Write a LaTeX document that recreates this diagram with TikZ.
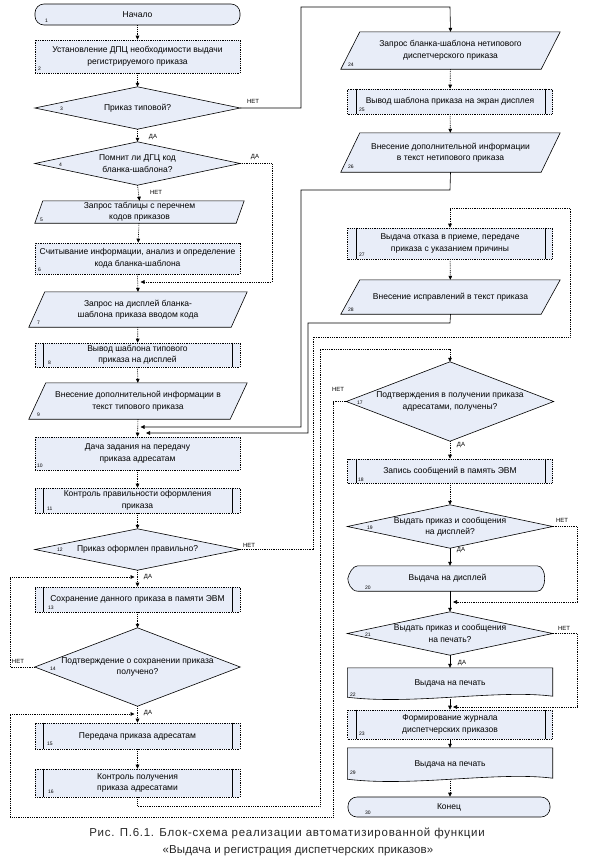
\documentclass[tikz,border=0pt]{standalone}
\usepackage{fontspec}
\setmainfont{Liberation Sans}
\newfontfamily\capfonta[LetterSpace=6.5]{Liberation Sans}
\newfontfamily\capfontb[LetterSpace=1]{Liberation Sans}
\usetikzlibrary{arrows.meta,calc}
\definecolor{boxfill}{RGB}{232,237,248}
\pgfdeclarelayer{bg}
\pgfsetlayers{bg,main}
\newcommand\mainfs{\fontsize{8.5}{11.5}\selectfont}
\newcommand\parag[2]{\begin{pgfonlayer}{bg}\draw[shp] ($(#1.north west)+(#2,0)$) -- (#1.north east) -- ($(#1.south east)-(#2,0)$) -- (#1.south west) -- cycle;\end{pgfonlayer}}
\newcommand\diam[1]{\begin{pgfonlayer}{bg}\draw[shp] (#1.north) -- (#1.east) -- (#1.south) -- (#1.west) -- cycle;\end{pgfonlayer}}
\newcommand\pdl[1]{\draw[ln] ($(#1.north west)+(9,0)$) -- ($(#1.south west)+(9,0)$); \draw[ln] ($(#1.north east)+(-8,0)$) -- ($(#1.south east)+(-8,0)$);}
\newcommand\docshape[1]{\begin{pgfonlayer}{bg}\draw[shp] (#1.north west) -- (#1.north east) -- ($(#1.south east)+(0,-3)$) .. controls ($(#1.south east)+(-55,-10)$) and ($(#1.south west)+(65,6)$) .. ($(#1.south west)+(0,-2)$) -- cycle;\end{pgfonlayer}}
\newcommand\dispshape[1]{\begin{pgfonlayer}{bg}\draw[shp] ($(#1.north west)+(10,0)$) -- ($(#1.north east)+(-10,0)$) .. controls ($(#1.north east)+(0,0)$) and ($(#1.south east)+(0,0)$) .. ($(#1.south east)+(-10,0)$) -- ($(#1.south west)+(10,0)$) .. controls ($(#1.south west)+(3,0)$) and ($(#1.west)+(0,4)$) .. (#1.west) .. controls ($(#1.west)+(1,-5)$) and ($(#1.north west)+(5,0)$) .. ($(#1.north west)+(10,0)$) -- cycle;\end{pgfonlayer}}
\tikzset{
  ln/.style={line width=0.6pt, draw=black},
  dotl/.style={dash pattern=on 0.9pt off 0.9pt},
  shp/.style={ln, fill=boxfill},
  rbox/.style={shp, dotl, minimum width=205pt, inner sep=1pt, align=center, font=\mainfs},
  term/.style={shp, rounded corners=9pt, minimum width=205pt, inner sep=1pt, align=center, font=\mainfs},
  tx/.style={inner sep=0pt, align=center, font=\mainfs},
  num/.style={inner sep=0pt, anchor=west, font=\fontsize{5}{5}\selectfont},
  lbl/.style={inner sep=0pt, font=\fontsize{6}{6}\selectfont},
  conn/.style={ln, -{Triangle[length=4pt,width=3.6pt]}},
  cdot/.style={conn, dotl},
}
\begin{document}
\begin{tikzpicture}[x=1pt,y=-1pt]
\useasboundingbox (0,0) rectangle (592,865);
% ---------- left column ----------
\node[term, minimum height=21pt] (n1) at (137.5,14.5) {Начало};
\node[rbox, minimum height=33pt] (n2) at (137.5,56.5) {Установление ДПЦ необходимости выдачи\\регистрируемого приказа};
\node[tx, minimum width=205pt, minimum height=42pt] (n3) at (137.5,108) {Приказ типовой?}; \diam{n3}
\node[tx, minimum width=205pt, minimum height=43pt] (n4) at (137.5,163.5) {Помнит ли ДГЦ код\\бланка-шаблона?}; \diam{n4}
\node[tx, minimum width=209pt, minimum height=22pt] (n5) at (139.5,212) {Запрос таблицы с перечнем\\кодов приказов}; \parag{n5}{8}
\node[rbox, minimum height=31pt] (n6) at (137.5,258.5) {Считывание информации, анализ и определение\\кода бланка-шаблона};
\node[tx, minimum width=218pt, minimum height=35pt] (n7) at (138,309.5) {Запрос на дисплей бланка-\\шаблона приказа вводом кода}; \parag{n7}{16}
\node[rbox, minimum height=24pt] (n8) at (137.5,355) {Вывод шаблона типового\\приказа на дисплей}; \pdl{n8}
\node[tx, minimum width=218pt, minimum height=36pt] (n9) at (138,401) {Внесение дополнительной информации в\\текст типового приказа}; \parag{n9}{17}
\node[rbox, minimum height=33pt] (n10) at (137.5,453.5) {Дача задания на передачу\\приказа адресатам};
\node[rbox, minimum height=25pt] (n11) at (137.5,500.5) {Контроль правильности оформления\\приказа}; \pdl{n11}
\node[tx, minimum width=205pt, minimum height=41pt] (n12) at (137.5,549.5) {Приказ оформлен правильно?}; \diam{n12}
\node[rbox, minimum height=25pt] (n13) at (137.5,599.5) {Сохранение данного приказа в памяти ЭВМ}; \pdl{n13}
\node[tx, minimum width=205pt, minimum height=78pt] (n14) at (137.5,667) {Подтверждение о сохранении приказа\\получено?}; \diam{n14}
\node[rbox, minimum height=26pt] (n15) at (137.5,736) {Передача приказа адресатам}; \pdl{n15}
\node[rbox, minimum height=28pt] (n16) at (137.5,783) {Контроль получения\\приказа адресатами}; \pdl{n16}
% ---------- right column ----------
\node[tx, minimum width=219pt, minimum height=37pt] (n24) at (450.5,50.5) {Запрос бланка-шаблона нетипового\\диспетчерского приказа}; \parag{n24}{19}
\node[rbox, minimum height=25pt] (n25) at (450,101.5) {Вывод шаблона приказа на экран дисплея}; \pdl{n25}
\node[tx, minimum width=219pt, minimum height=39pt] (n26) at (450.5,152.5) {Внесение дополнительной информации\\в текст нетипового приказа}; \parag{n26}{19}
\node[rbox, minimum height=31pt] (n27) at (450,243.5) {Выдача отказа в приеме, передаче\\приказа с указанием причины}; \pdl{n27}
\node[tx, minimum width=219pt, minimum height=34pt] (n28) at (450.5,297) {Внесение исправлений в текст приказа}; \parag{n28}{19}
\node[tx, minimum width=207pt, minimum height=79pt] (n17) at (450,401.5) {Подтверждения в получении приказа\\адресатами, получены?}; \diam{n17}
\node[rbox, minimum height=24pt] (n18) at (450,471) {Запись сообщений в память ЭВМ}; \pdl{n18}
\node[tx, minimum width=205pt, minimum height=43pt] (n19) at (450,526.5) {Выдать приказ и сообщения\\на дисплей?}; \diam{n19}
\node[tx, minimum width=199pt, minimum height=25pt] (n20) at (447.5,578.5) {Выдача на дисплей}; \dispshape{n20}
\node[tx, minimum width=205pt, minimum height=43pt] (n21) at (450,633.5) {Выдать приказ и сообщения\\на печать?}; \diam{n21}
\node[tx, minimum width=205pt, minimum height=31pt] (n22) at (450,683.5) {Выдача на печать}; \docshape{n22}
\node[rbox, minimum height=29pt] (n23) at (450,724.5) {Формирование журнала\\диспетчерских приказов}; \pdl{n23}
\node[tx, minimum width=205pt, minimum height=33pt] (n29) at (450,764.5) {Выдача на печать}; \docshape{n29}
\node[term, minimum width=202pt, minimum height=20pt] (n30) at (449,807) {Конец};
% ---------- numbers ----------
\node[num] (k1) at (45,21) {1};
\node[num] (k2) at (38,69) {2};
\node[num] (k3) at (60,109) {3};
\node[num] (k4) at (59,165) {4};
\node[num] (k5) at (40,220) {5};
\node[num] (k6) at (38,270) {6};
\node[num] (k7) at (37,323) {7};
\node[num] (k8) at (48,363) {8};
\node[num] (k9) at (37,415) {9};
\node[num] (k10) at (37,466) {10};
\node[num] (k11) at (47,509) {11};
\node[num] (k12) at (57,550) {12};
\node[num] (k13) at (48,608) {13};
\node[num] (k14) at (50,669) {14};
\node[num] (k15) at (47,744) {15};
\node[num] (k16) at (48,792) {16};
\node[num] (k24) at (348,65) {24};
\node[num] (k25) at (359,110) {25};
\node[num] (k26) at (348,167) {26};
\node[num] (k27) at (359,255) {27};
\node[num] (k28) at (348,310) {28};
\node[num] (k17) at (357,403) {17};
\node[num] (k18) at (358,480) {18};
\node[num] (k19) at (367,528) {19};
\node[num] (k20) at (365,588) {20};
\node[num] (k21) at (365,635) {21};
\node[num] (k22) at (350,695) {22};
\node[num] (k23) at (359,734) {23};
\node[num] (k29) at (350,773) {29};
\node[num] (k30) at (365,813) {30};
% ---------- junction coordinates ----------
\coordinate (j6) at (140.5,282);
\coordinate (j10a) at (140.5,427);
\coordinate (j10b) at (146,433);
\coordinate (j13) at (134.5,577);
\coordinate (j15) at (134.5,714);
\coordinate (j21) at (453,602);
\coordinate (j23) at (453,707);
% ---------- connectors left ----------
\draw[cdot] (n1) -- (n2);
\draw[cdot] (n2) -- (n3);
\draw[cdot] (n3.south) -- (n4.north);
\draw[conn] (n3.east) -- (301,108) -- (301,7) -- (450,7) -- (n24.north);
\draw[cdot] (n4.south) -- (n5.north);
\draw[cdot] (n4.east) -- (272,163.5) -- (272,282) -- (j6);
\draw[cdot] (n5) -- (n6);
\draw[cdot] (n6.south) -- (n7.north);
\draw[cdot] (n7) -- (n8);
\draw[cdot] (n8) -- (n9);
\draw[cdot] (n9.south) -- (n10.north);
\draw[conn] (n26.south) -- (450,190) -- (301,190) -- (301,427) -- (j10a);
\draw[conn] (n28.south) -- (450,323) -- (308,323) -- (308,433) -- (j10b);
\draw[cdot] (n10) -- (n11);
\draw[cdot] (n11) -- (n12);
\draw[cdot] (n12.south) -- (n13.north);
\draw[cdot] (n12.east) -- (313,549.5) -- (313,337) -- (570,337) -- (570,208) -- (450,208) -- (n27.north);
\draw[cdot] (n13) -- (n14);
\draw[cdot] (n14.west) -- (10,667) -- (10,577) -- (j13);
\draw[cdot] (n14.south) -- (n15.north);
\draw[cdot] (n15) -- (n16);
\draw[cdot] (n16.south) -- (137.5,806) -- (320,806) -- (320,349) -- (450,349) -- (n17.north);
\draw[cdot] (n17.west) -- (333,401.5) -- (333,817) -- (10,817) -- (10,714) -- (j15);
% ---------- connectors right ----------
\draw[cdot] (n24) -- (n25);
\draw[cdot] (n25) -- (n26);
\draw[cdot] (n27) -- (n28);
\draw[cdot] (n17.south) -- (n18.north);
\draw[cdot] (n18) -- (n19);
\draw[conn] (n19.south) -- (n19.south |- n20.north);
\draw[cdot] (n19.east) -- (577,526.5) -- (577,602) -- (j21);
\draw[conn] (n20.south -| n21.north) -- (n21.north);
\draw[conn] (n21.south) -- (n22.north);
\draw[cdot] (n21.east) -- (577,633.5) -- (577,707) -- (j23);
\draw[conn] (n22.south) -- (n23.north);
\draw[conn] (n23) -- (n29);
\draw[cdot] (n29.south) -- (n30.north -| n29.south);
% ---------- branch labels ----------
\node[lbl] (l3n) at (253,101) {НЕТ};
\node[lbl] (l3d) at (153,137) {ДА};
\node[lbl] (l4d) at (255,157) {ДА};
\node[lbl] (l4n) at (156,192) {НЕТ};
\node[lbl] (l12n) at (249,545) {НЕТ};
\node[lbl] (l12d) at (148,577) {ДА};
\node[lbl] (l14n) at (18,661) {НЕТ};
\node[lbl] (l14d) at (148,713) {ДА};
\node[lbl] (l17n) at (338,389) {НЕТ};
\node[lbl] (l17d) at (461,445) {ДА};
\node[lbl] (l19n) at (562,520) {НЕТ};
\node[lbl] (l19d) at (461,550) {ДА};
\node[lbl] (l21n) at (564,628) {НЕТ};
\node[lbl] (l21d) at (462,663) {ДА};
% ---------- caption ----------
\node[inner sep=0pt, font=\capfonta\fontsize{11.5}{17}\selectfont, text=black!85] (cap1) at (287,833) {Рис. П.6.1. Блок-схема реализации автоматизированной функции};
\node[inner sep=0pt, font=\capfontb\fontsize{11.5}{17}\selectfont, text=black!85] (cap2) at (298,851) {«Выдача и регистрация диспетчерских приказов»};
\end{tikzpicture}
\end{document}
